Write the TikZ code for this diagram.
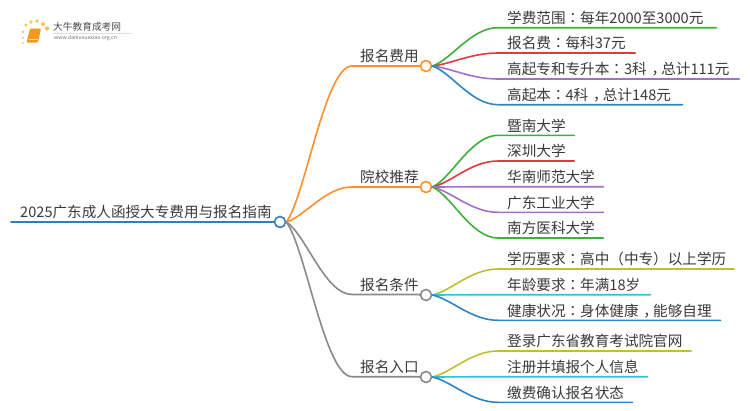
\documentclass[tikz,border=0pt]{standalone}
\usepackage{fontspec}
\setmainfont{Noto Sans CJK SC}
\newfontfamily\punctfont{Noto Sans CJK TC}
\newcommand{\cln}{{\punctfont ：}}
\newcommand{\cma}{\hspace{.33em}，\hspace{-.33em}}
\definecolor{cOrange}{HTML}{FF8F2E}
\definecolor{cRoot}{HTML}{2F7FBF}
\definecolor{cGreen}{HTML}{3FAE3F}
\definecolor{cRed}{HTML}{DF3A40}
\definecolor{cPurple}{HTML}{A36FCC}
\definecolor{cBlue}{HTML}{2E84C4}
\definecolor{cGrey}{HTML}{8A8A8A}
\definecolor{cOlive}{HTML}{BFBF30}
\definecolor{cCyan}{HTML}{2FC3D8}
\definecolor{cText}{HTML}{3A3A3A}
\definecolor{cBook}{HTML}{F39A1E}
\definecolor{cDot}{HTML}{F9C35A}
\newcommand{\lbl}[3]{\makebox[#1pt][l]{\hspace{#2pt}#3}}
\usetikzlibrary{calc}
\tikzset{
  x=1pt,y=-1pt,
  hub/.style={circle,draw=#1,fill=white,line width=1.6pt,minimum size=11pt,inner sep=0pt},
  tagbox/.style={anchor=south west,inner xsep=0pt,inner ysep=0pt,minimum height=19pt,text=cText,font=\fontsize{14.6}{17}\selectfont},
  conn/.style={line width=1.6pt,color=#1,line cap=round,line join=round},
}
\newcommand{\curve}[3]{\draw[conn=#1] (#2.east) .. controls ($(#2.east)!0.16!(#3.south west)+(8.5,0)$) and ($(#3.south west)+(-27,0)$) .. (#3.south west) -- (#3.south east);}
\begin{document}
\begin{tikzpicture}
\useasboundingbox (0,0) rectangle (750,410);
\fill[white] (0,0) rectangle (750,410);

% logo
\fill[cBook,rounded corners=1pt] (30,28.5) -- (41,28.5) -- (38,42.5) -- (26.5,42.5) -- cycle;
\draw[white!70!cBook,line width=0.6pt] (28.5,39.5) -- (38,39.5);
\foreach \px/\py/\r in {23/38/1.1,23/32/1.4,26/25/1.7,31/22/1.9,37/21/1.9,43/24/2,47/28.5/2.2,23/43/0.8}
  \fill[cDot] (\px,\py) circle (\r);
\node[anchor=west,inner sep=0pt,text=black!70,font=\fontsize{9.7}{11}\selectfont] (logoA) at (53,27) {大牛教育成考网};
\node[anchor=west,inner sep=0pt,text=black!55,font=\fontsize{5.2}{6}\selectfont] (logoB) at (54,38.5) {www.daniuxuexiao.org.cn};
\draw[black!12,line width=0.4pt] (53,33) -- (132,33);

% labels
\node[tagbox] (root) at (11,222) {\lbl{261}{9}{2025广东成人函授大专费用与报名指南}};
\node[tagbox] (m1) at (352,66) {\lbl{68}{8}{报名费用}};
\node[tagbox] (m2) at (352,187) {\lbl{68}{8}{院校推荐}};
\node[tagbox] (m3) at (352,294.5) {\lbl{68}{8}{报名条件}};
\node[tagbox] (m4) at (352,376.7) {\lbl{68}{8}{报名入口}};

\node[tagbox] (a1) at (498,27.7) {\lbl{218}{9}{学费范围\cln 每年2000至3000元}};
\node[tagbox] (a2) at (498,53) {\lbl{137}{9}{报名费\cln 每科37元}};
\node[tagbox] (a3) at (498,79) {\lbl{241}{9}{高起专和专升本\cln 3科\cma 总计111元}};
\node[tagbox] (a4) at (498,104.7) {\lbl{184}{9}{高起本\cln 4科\cma 总计148元}};

\node[tagbox] (b1) at (498,135.3) {\lbl{76}{9}{暨南大学}};
\node[tagbox] (b2) at (498,161) {\lbl{76}{9}{深圳大学}};
\node[tagbox] (b3) at (498,186.7) {\lbl{105}{9}{华南师范大学}};
\node[tagbox] (b4) at (498,212.3) {\lbl{105}{9}{广东工业大学}};
\node[tagbox] (b5) at (498,238) {\lbl{105}{9}{南方医科大学}};

\node[tagbox] (c1) at (498,269) {\lbl{236}{9}{学历要求\cln 高中（中专）以上学历}};
\node[tagbox] (c2) at (498,294.7) {\lbl{152}{9}{年龄要求\cln 年满18岁}};
\node[tagbox] (c3) at (498,320.3) {\lbl{222}{9}{健康状况\cln 身体健康\cma 能够自理}};

\node[tagbox] (d1) at (498,351) {\lbl{193}{9}{登录广东省教育考试院官网}};
\node[tagbox] (d2) at (498,376.7) {\lbl{149}{9}{注册并填报个人信息}};
\node[tagbox] (d3) at (498,402.3) {\lbl{134}{9}{缴费确认报名状态}};

% hubs
\node[hub=cRoot] (rc) at (280,222) {};
\node[hub=cOrange] (h1) at (426,66) {};
\node[hub=cOrange] (h2) at (426,187) {};
\node[hub=cGrey] (h3) at (426,295) {};
\node[hub=cGrey] (h4) at (426,377) {};

% connectors
\draw[conn=cRoot] (root.south west) -- (rc.west);
\curve{cOrange}{rc}{m1}
\curve{cOrange}{rc}{m2}
\curve{cGrey}{rc}{m3}
\curve{cGrey}{rc}{m4}
\draw[conn=cOrange] (m1.south east) -- (h1.west);
\draw[conn=cOrange] (m2.south east) -- (h2.west);
\draw[conn=cGrey] (m3.south east) -- (h3.west);
\draw[conn=cGrey] (m4.south east) -- (h4.west);

\curve{cGreen}{h1}{a1}
\curve{cRed}{h1}{a2}
\curve{cPurple}{h1}{a3}
\curve{cBlue}{h1}{a4}
\curve{cGreen}{h2}{b1}
\curve{cRed}{h2}{b2}
\curve{cPurple}{h2}{b3}
\curve{cPurple}{h2}{b4}
\curve{cGreen}{h2}{b5}
\curve{cOlive}{h3}{c1}
\curve{cCyan}{h3}{c2}
\curve{cBlue}{h3}{c3}
\curve{cOlive}{h4}{d1}
\curve{cCyan}{h4}{d2}
\curve{cBlue}{h4}{d3}
\end{tikzpicture}
\end{document}
